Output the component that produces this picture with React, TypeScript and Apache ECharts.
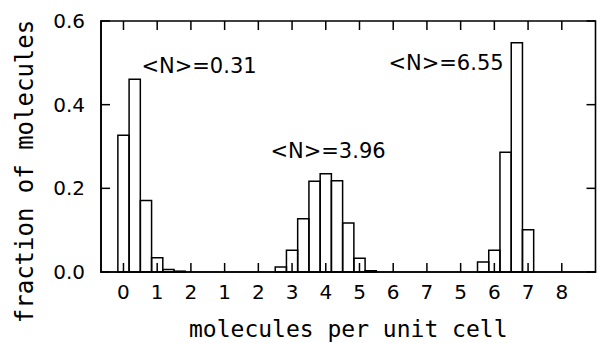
import React, { useEffect, useRef } from "react";
import * as echarts from "echarts";

// Axis tick labels (one slot per labelled tick, left to right)
const tickLabels = ["0", "1", "2", "1", "2", "3", "4", "5", "6", "7", "5", "6", "7", "8"];
// Slot offset of each distribution: molecule count n is drawn at slot n + offset
const slotOffsets = [0, 2, 5];
// y-axis ticks
const yTickValues = [0, 0.2, 0.4, 0.6];

// Distribution 1, <N> = 0.31
const moleculesA = [0, 0.333, 0.667, 1, 1.333, 1.667];
const fractionA = [0.327, 0.461, 0.171, 0.034, 0.006, 0.002];
// Distribution 2, <N> = 3.96
const moleculesB = [2.667, 3, 3.333, 3.667, 4, 4.333, 4.667, 5, 5.333];
const fractionB = [0.012, 0.052, 0.127, 0.217, 0.235, 0.218, 0.117, 0.033, 0.003];
// Distribution 3, <N> = 6.55
const moleculesC = [5.667, 6, 6.333, 6.667, 7];
const fractionC = [0.024, 0.052, 0.286, 0.548, 0.101];

const meanLabels = ["<N>=0.31", "<N>=3.96", "<N>=6.55"];
const xTitle = "molecules per unit cell";
const yTitle = "fraction of molecules";

const BIN = 0.333; // bin width in molecule units
const X_MIN = -2 / 3;
const X_MAX = 14;
const Y_MAX = 0.6;

export default function App() {
  const ref = useRef<HTMLDivElement>(null);

  useEffect(() => {
    if (!ref.current) return;
    const chart = echarts.init(ref.current, null, { renderer: "svg" });
    const font = "DejaVu Sans";
    const titleFont = "DejaVu Sans Mono";
    const tickSlots = tickLabels.map((_, i) => i);
    const TICK = 9;
    const ink = { stroke: "#000", lineWidth: 1.5 };

    const groups: [number[], number[]][] = [
      [moleculesA, fractionA],
      [moleculesB, fractionB],
      [moleculesC, fractionC],
    ];
    const barData: number[][] = [];
    groups.forEach(([mol, frac], g) => {
      mol.forEach((m, i) => barData.push([m + slotOffsets[g], frac[i]]));
    });

    const renderBar = (params: any, api: any) => {
      const x = api.value(0);
      const y = api.value(1);
      const p0 = api.coord([x - BIN / 2, y]);
      const p1 = api.coord([x + BIN / 2, 0]);
      return {
        type: "rect",
        shape: { x: p0[0], y: p0[1], width: p1[0] - p0[0], height: p1[1] - p0[1] },
        style: { fill: "none", ...ink },
      };
    };

    // frame of the plot area
    const renderFrame = (params: any, api: any) => {
      const p0 = api.coord([X_MIN, Y_MAX]);
      const p1 = api.coord([X_MAX, 0]);
      return {
        type: "rect",
        shape: { x: p0[0], y: p0[1], width: p1[0] - p0[0], height: p1[1] - p0[1] },
        style: { fill: "none", stroke: "#000", lineWidth: 1.6 },
      };
    };

    // inward ticks on bottom and top edges
    const renderXTick = (params: any, api: any) => {
      const v = api.value(0);
      const b = api.coord([v, 0]);
      const t = api.coord([v, Y_MAX]);
      return {
        type: "group",
        children: [
          { type: "line", shape: { x1: b[0], y1: b[1], x2: b[0], y2: b[1] - TICK }, style: ink },
          { type: "line", shape: { x1: t[0], y1: t[1], x2: t[0], y2: t[1] + TICK }, style: ink },
        ],
      };
    };

    // inward ticks on left and right edges
    const renderYTick = (params: any, api: any) => {
      const v = api.value(1);
      const l = api.coord([X_MIN, v]);
      const r = api.coord([X_MAX, v]);
      return {
        type: "group",
        children: [
          { type: "line", shape: { x1: l[0], y1: l[1], x2: l[0] + TICK, y2: l[1] }, style: ink },
          { type: "line", shape: { x1: r[0], y1: r[1], x2: r[0] - TICK, y2: r[1] }, style: ink },
        ],
      };
    };

    const series: any[] = [
      { type: "custom", renderItem: renderBar, data: barData, z: 3, silent: true },
      { type: "custom", renderItem: renderFrame, data: [[0, 0]], z: 4, silent: true },
      { type: "custom", renderItem: renderXTick, data: tickSlots.map((v) => [v, 0]), z: 4, silent: true },
      { type: "custom", renderItem: renderYTick, data: yTickValues.map((v) => [0, v]), z: 4, silent: true },
    ];

    chart.setOption({
      animation: false,
      grid: { left: 101, right: 1.5, top: 21, bottom: 71, outerBoundsMode: "none" },
      xAxis: {
        type: "value",
        min: X_MIN,
        max: X_MAX,
        name: xTitle,
        nameLocation: "middle",
        nameGap: 45,
        nameTextStyle: { fontFamily: titleFont, fontSize: 23, color: "#000" },
        axisLine: { show: true, onZero: false, lineStyle: { color: "#000", width: 1.6 } },
        axisTick: { show: false },
        axisLabel: {
          customValues: tickSlots,
          formatter: (v: number) => tickLabels[Math.round(v)],
          margin: 10,
          fontFamily: font,
          fontSize: 20,
          color: "#000",
        },
        splitLine: { show: false },
      },
      yAxis: {
        type: "value",
        min: 0,
        max: Y_MAX,
        interval: 0.2,
        name: yTitle,
        nameLocation: "middle",
        nameRotate: 90,
        nameGap: 64,
        nameTextStyle: { fontFamily: titleFont, fontSize: 24, color: "#000", padding: [0, 50, 0, 0] },
        axisLine: { show: true, onZero: false, lineStyle: { color: "#000", width: 1.6 } },
        axisTick: { show: false },
        axisLabel: {
          formatter: (v: number) => v.toFixed(1),
          margin: 16,
          fontFamily: font,
          fontSize: 20,
          color: "#000",
        },
        splitLine: { show: false },
      },
      graphic: [
        {
          type: "text",
          x: 199,
          y: 66,
          style: { text: meanLabels[0], font: `21px '${font}'`, fill: "#000", align: "center", verticalAlign: "middle" },
        },
        {
          type: "text",
          x: 328,
          y: 151,
          style: { text: meanLabels[1], font: `21px '${font}'`, fill: "#000", align: "center", verticalAlign: "middle" },
        },
        {
          type: "text",
          x: 446,
          y: 63,
          style: { text: meanLabels[2], font: `21px '${font}'`, fill: "#000", align: "center", verticalAlign: "middle" },
        },
      ],
      series,
    });

    return () => chart.dispose();
  }, []);

  return (
    <div
      ref={ref}
      style={{ position: "absolute", left: 0, top: 0, width: 597, height: 343, background: "#fff" }}
    />
  );
}
